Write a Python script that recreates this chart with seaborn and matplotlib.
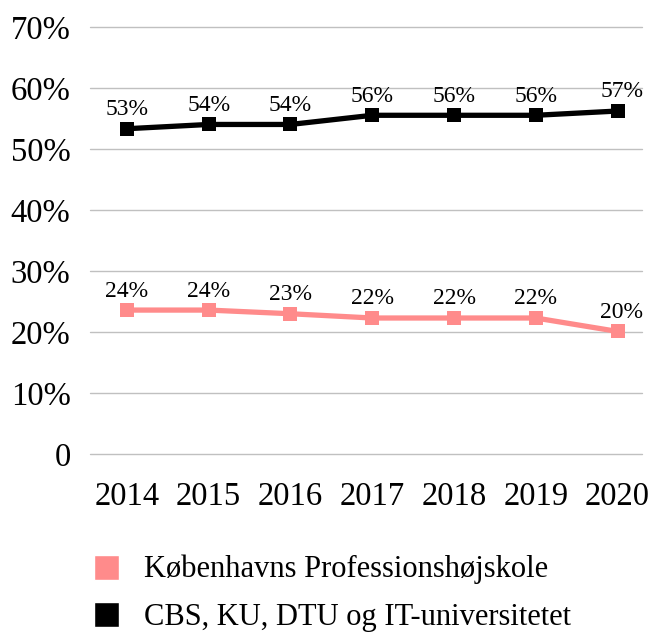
import matplotlib
matplotlib.use("Agg")
import matplotlib.pyplot as plt
import seaborn as sns
import pandas as pd
from matplotlib.lines import Line2D

years = ["2014", "2015", "2016", "2017", "2018", "2019", "2020"]
kp_values = [23.6, 23.6, 23.0, 22.3, 22.3, 22.3, 20.1]
uni_values = [53.3, 54.0, 54.0, 55.5, 55.5, 55.5, 56.2]
kp_labels = ["24%", "24%", "23%", "22%", "22%", "22%", "20%"]
uni_labels = ["53%", "54%", "54%", "56%", "56%", "56%", "57%"]
series_names = ["Københavns Professionshøjskole", "CBS, KU, DTU og IT-universitetet"]
colors = ["#ff8b8b", "#000000"]
yticks = [0, 10, 20, 30, 40, 50, 60, 70]
ytick_labels = ["0", "10%", "20%", "30%", "40%", "50%", "60%", "70%"]

sns.set_theme(style="white")
plt.rcParams["font.family"] = ["Liberation Serif", "DejaVu Serif"]
plt.rcParams["text.color"] = "black"
plt.rcParams["xtick.color"] = "black"
plt.rcParams["ytick.color"] = "black"

df = pd.DataFrame({
    "year": years * 2,
    "value": kp_values + uni_values,
    "series": [series_names[0]] * 7 + [series_names[1]] * 7,
})

fig = plt.figure(figsize=(6.62, 6.37), dpi=100)
ax = fig.add_axes([0.136, 0.287, 0.834, 0.671])

for i, name in enumerate(series_names):
    sub = df[df["series"] == name]
    sns.lineplot(data=sub, x="year", y="value", ax=ax, color=colors[i],
                 linewidth=3.8, marker="s", markersize=10, markeredgewidth=0,
                 legend=False, sort=False)

xs = range(len(years))
for x, v, lab in zip(xs, kp_values, kp_labels):
    ax.text(x + (0.05 if x == 6 else 0), v + 1.4, lab, ha="center", va="bottom", fontsize=17)
for x, v, lab in zip(xs, uni_values, uni_labels):
    ax.text(x + (0.05 if x == 6 else 0), v + 1.4, lab, ha="center", va="bottom", fontsize=17)

ax.set_ylim(0, 70)
ax.set_xlim(-0.45, 6.3)
ax.set_yticks(yticks)
ax.set_yticklabels(ytick_labels, fontsize=23.5)
ax.tick_params(axis="x", labelsize=23.5, pad=20, length=0)
ax.tick_params(axis="y", pad=14, length=0)
ax.set_xlabel("")
ax.set_ylabel("")
ax.grid(axis="y", color="#c0c0c0", linewidth=1)
for gl in ax.get_ygridlines():
    gl.set_clip_on(False)
ax.set_axisbelow(True)
sns.despine(ax=ax, left=True, bottom=True)

handles = [Line2D([0], [0], marker="s", color="w", markerfacecolor=c, markersize=18, linewidth=0)
           for c in colors]
fig.legend(handles, series_names, loc="upper left", bbox_to_anchor=(0.118, 0.148),
           frameon=False, fontsize=22, handlelength=1.0, handletextpad=0.75, labelspacing=0.6,
           borderaxespad=0)

fig.savefig("out.png", dpi=100)
